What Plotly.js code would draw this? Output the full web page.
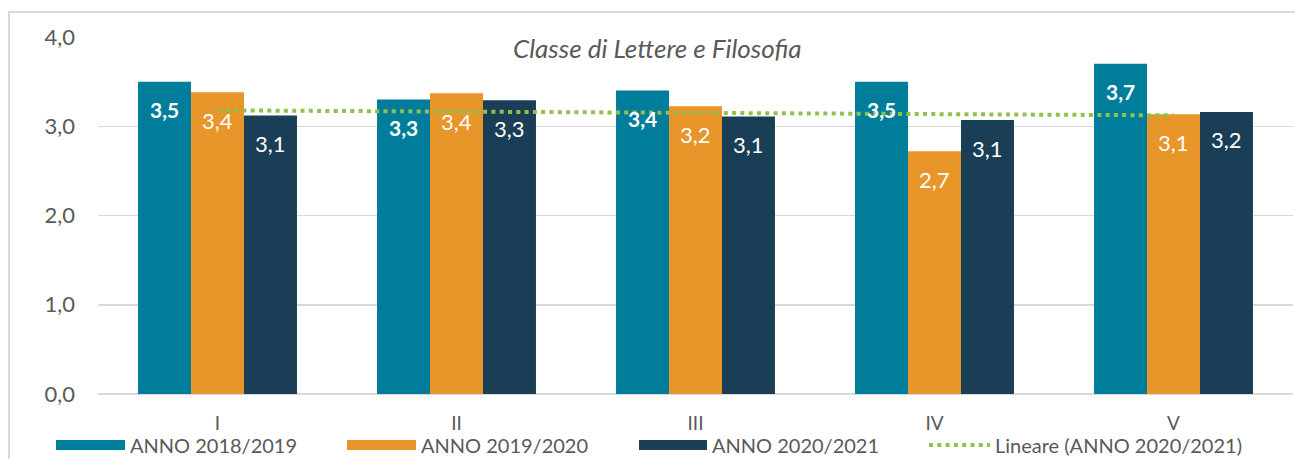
<!DOCTYPE html>
<html>
<head>
<meta charset="utf-8">
<script src="https://cdn.plot.ly/plotly-3.0.1.min.js"></script>
<style>
  html, body { margin:0; padding:0; background:#ffffff; }
  #wrap { position:relative; width:1295px; height:459px; overflow:hidden; }
  #frame { position:absolute; left:8px; top:11px; width:1400px; height:600px; border:2px solid #d9d9d9; box-sizing:border-box; }
  #chart { position:absolute; left:0; top:0; width:1295px; height:459px; }
</style>
</head>
<body>
<div id="wrap">
  <div id="frame"></div>
  <div id="chart"></div>
</div>
<script>
// ---- data ----
var categories = ["I", "II", "III", "IV", "V"];
var seriesNames = ["ANNO 2018/2019", "ANNO 2019/2020", "ANNO 2020/2021"];
var anno2018 = [3.50, 3.30, 3.40, 3.50, 3.70];
var anno2019 = [3.38, 3.37, 3.225, 2.72, 3.135];
var anno2020 = [3.12, 3.29, 3.11, 3.07, 3.16];
var trendName = "Lineare (ANNO 2020/2021)";
var yTicks = [0, 1, 2, 3, 4];
var titleText = "Classe di Lettere e Filosofia";

// ---- styles ----
var colors = ["#007d9a", "#e8952a", "#1a3e56"];
var trendColor = "#92c050";
var FONT = "Lato, 'Noto Sans', sans-serif";
var grey = "#595959";

var series = [anno2018, anno2019, anno2020];
var traces = [];
series.forEach(function (vals, i) {
  traces.push({
    type: "bar", name: seriesNames[i], x: categories, y: vals,
    marker: { color: colors[i], line: { width: 0 } },
    showlegend: false, hoverinfo: "x+y"
  });
});

// linear trendline of the last series (least squares over category index)
var n = anno2020.length, sx = 0, sy = 0, sxy = 0, sxx = 0;
for (var k = 0; k < n; k++) { var xi = k + 1; sx += xi; sy += anno2020[k]; sxy += xi * anno2020[k]; sxx += xi * xi; }
var slope = (n * sxy - sx * sy) / (n * sxx - sx * sx);
var icpt = (sy - slope * sx) / n;
var trendY = categories.map(function (c, k) { return icpt + slope * (k + 1); });
traces.push({
  type: "scatter", mode: "lines", name: trendName, x: categories, y: trendY,
  line: { color: trendColor, width: 4, dash: "4px,4.3px" }, showlegend: false, hoverinfo: "skip"
});

// legend proxies (wide swatches), one legend per entry
var legendIds = ["legend", "legend2", "legend3", "legend4"];
seriesNames.forEach(function (nm, i) {
  traces.push({ type: "scatter", mode: "lines", name: nm, x: [null], y: [null],
    line: { color: colors[i], width: 15 }, showlegend: true, legend: legendIds[i] });
});
traces.push({ type: "scatter", mode: "lines", name: trendName, x: [null], y: [null],
  line: { color: trendColor, width: 4, dash: "4px,4.3px" }, showlegend: true, legend: legendIds[3] });

// data labels
function fmt(v) { return (Math.round(v * 10) / 10).toFixed(1).replace(".", ","); }
var shifts = [-53, 0, 53];
var annotations = [];
series.forEach(function (vals, i) {
  vals.forEach(function (v, k) {
    annotations.push({
      x: categories[k], y: v, xref: "x", yref: "y", xshift: shifts[i], yshift: -28,
      text: i === 0 ? "<b>" + fmt(v) + "</b>" : fmt(v),
      showarrow: false, font: { family: FONT, size: i === 0 ? 21 : 22, color: "#ffffff" }
    });
  });
});

function legendAt(px, iw) {
  return { orientation: "h", xref: "container", x: px / 1295, xanchor: "left",
    yref: "container", y: 1 - 445 / 459, yanchor: "middle", itemwidth: iw,
    font: { family: FONT, size: 20, color: grey }, bgcolor: "rgba(0,0,0,0)" };
}

var layout = {
  width: 1295, height: 459,
  margin: { l: 98, r: 2, t: 37, b: 65, pad: 0, autoexpand: false },
  paper_bgcolor: "rgba(0,0,0,0)", plot_bgcolor: "rgba(0,0,0,0)",
  separators: ",.",
  barmode: "group", bargap: 0.335, bargroupgap: 0,
  font: { family: FONT, size: 20, color: grey },
  title: { text: "<i>" + titleText + "</i>", xref: "paper", x: 0.468, xanchor: "center",
    yref: "container", y: 1 - 49 / 459, yanchor: "middle",
    font: { family: FONT, size: 26, color: grey } },
  xaxis: { type: "category", showgrid: false, zeroline: false, showline: false,
    ticks: "", ticklabelstandoff: 16, tickfont: { family: FONT, size: 19, color: grey } },
  yaxis: { range: [0, 4], tickvals: yTicks, tickformat: ".1f", showgrid: true,
    gridcolor: "#d9d9d9", gridwidth: 1.5, zeroline: true, zerolinecolor: "#d9d9d9", zerolinewidth: 1.5,
    showline: false, ticks: "", ticklabelstandoff: 22, tickfont: { family: FONT, size: 22, color: grey },
    fixedrange: true },
  legend: legendAt(51, 69),
  legend2: legendAt(342, 69),
  legend3: legendAt(634, 68),
  legend4: legendAt(924, 61),
  annotations: annotations,
  showlegend: true
};

Plotly.newPlot("chart", traces, layout, { displayModeBar: false, staticPlot: true });
</script>
</body>
</html>
